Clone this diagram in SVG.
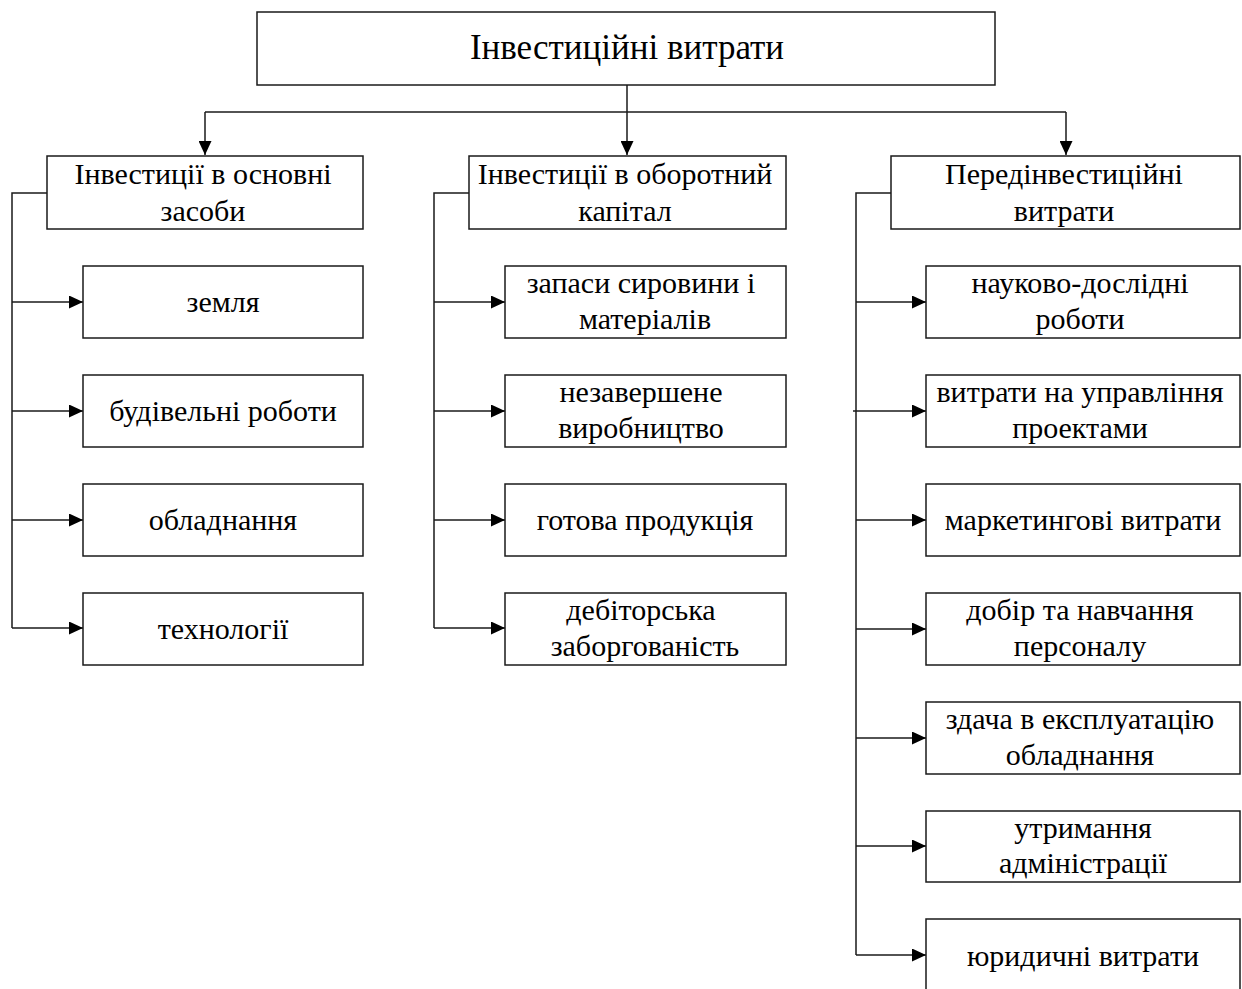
<svg xmlns="http://www.w3.org/2000/svg" width="1242" height="989" viewBox="0 0 1242 989">
  <style>
    .box { fill: #fff; stroke: #1a1a1a; stroke-width: 1.5; }
    .lbl { font-family: "Liberation Serif", "Times New Roman", serif; font-size: 30px; fill: #000; text-anchor: middle; }
    .ttl { font-size: 35px; }
    .wire { fill: none; stroke: #1a1a1a; stroke-width: 1.5; }
  </style>
  <defs>
    <marker id="arrow" viewBox="0 0 14 13" refX="14" refY="6.5" markerWidth="14" markerHeight="13" markerUnits="userSpaceOnUse" orient="auto">
      <path d="M0,0 L14,6.5 L0,13 Z" fill="#000"/>
    </marker>
  </defs>
  <rect width="1242" height="989" fill="#fff"/>

  <!-- connectors -->
  <g id="connectors" class="wire">
    <!-- root to the three branches -->
    <path d="M627,85 V155" marker-end="url(#arrow)"/>
    <path d="M205,112 H1066"/>
    <path d="M205,112 V155" marker-end="url(#arrow)"/>
    <path d="M1066,112 V155" marker-end="url(#arrow)"/>

    <!-- left branch bus -->
    <path d="M47,193 H12 V628"/>
    <path d="M12,302 H83" marker-end="url(#arrow)"/>
    <path d="M12,411 H83" marker-end="url(#arrow)"/>
    <path d="M12,520 H83" marker-end="url(#arrow)"/>
    <path d="M12,628 H83" marker-end="url(#arrow)"/>

    <!-- middle branch bus -->
    <path d="M469,193 H434 V628"/>
    <path d="M434,302 H505" marker-end="url(#arrow)"/>
    <path d="M434,411 H505" marker-end="url(#arrow)"/>
    <path d="M434,520 H505" marker-end="url(#arrow)"/>
    <path d="M434,628 H505" marker-end="url(#arrow)"/>

    <!-- right branch bus -->
    <path d="M891,193 H856 V955"/>
    <path d="M856,302 H926" marker-end="url(#arrow)"/>
    <path d="M853,411 H926" marker-end="url(#arrow)"/>
    <path d="M856,520 H926" marker-end="url(#arrow)"/>
    <path d="M856,629 H926" marker-end="url(#arrow)"/>
    <path d="M856,738 H926" marker-end="url(#arrow)"/>
    <path d="M856,846 H926" marker-end="url(#arrow)"/>
    <path d="M856,955 H926" marker-end="url(#arrow)"/>
  </g>

  <!-- root -->
  <g id="root">
    <rect class="box" x="257" y="12" width="738" height="73"/>
    <text class="lbl ttl" x="627" y="59">Інвестиційні витрати</text>
  </g>

  <!-- second level -->
  <g id="fixed-assets">
    <rect class="box" x="47" y="156" width="316" height="73"/>
    <text class="lbl" x="203" y="184">Інвестиції в основні</text>
    <text class="lbl" x="203" y="221">засоби</text>
  </g>
  <g id="working-capital">
    <rect class="box" x="469" y="156" width="317" height="73"/>
    <text class="lbl" x="625" y="184">Інвестиції в оборотний</text>
    <text class="lbl" x="625" y="221">капітал</text>
  </g>
  <g id="pre-investment">
    <rect class="box" x="891" y="156" width="349" height="73"/>
    <text class="lbl" x="1064" y="184">Передінвестиційні</text>
    <text class="lbl" x="1064" y="221">витрати</text>
  </g>

  <!-- fixed assets items -->
  <g id="land">
    <rect class="box" x="83" y="266" width="280" height="72"/>
    <text class="lbl" x="223" y="312">земля</text>
  </g>
  <g id="construction">
    <rect class="box" x="83" y="375" width="280" height="72"/>
    <text class="lbl" x="223" y="421">будівельні роботи</text>
  </g>
  <g id="equipment">
    <rect class="box" x="83" y="484" width="280" height="72"/>
    <text class="lbl" x="223" y="530">обладнання</text>
  </g>
  <g id="technology">
    <rect class="box" x="83" y="593" width="280" height="72"/>
    <text class="lbl" x="223" y="639">технології</text>
  </g>

  <!-- working capital items -->
  <g id="raw-materials">
    <rect class="box" x="505" y="266" width="281" height="72"/>
    <text class="lbl" x="641" y="293">запаси сировини і</text>
    <text class="lbl" x="645" y="329">матеріалів</text>
  </g>
  <g id="work-in-progress">
    <rect class="box" x="505" y="375" width="281" height="72"/>
    <text class="lbl" x="641" y="402">незавершене</text>
    <text class="lbl" x="641" y="438">виробництво</text>
  </g>
  <g id="finished-goods">
    <rect class="box" x="505" y="484" width="281" height="72"/>
    <text class="lbl" x="645" y="530">готова продукція</text>
  </g>
  <g id="receivables">
    <rect class="box" x="505" y="593" width="281" height="72"/>
    <text class="lbl" x="641" y="620">дебіторська</text>
    <text class="lbl" x="645" y="656">заборгованість</text>
  </g>

  <!-- pre-investment items -->
  <g id="research">
    <rect class="box" x="926" y="266" width="314" height="72"/>
    <text class="lbl" x="1080" y="293">науково-дослідні</text>
    <text class="lbl" x="1080" y="329">роботи</text>
  </g>
  <g id="project-management">
    <rect class="box" x="926" y="375" width="314" height="72"/>
    <text class="lbl" x="1080" y="402">витрати на управління</text>
    <text class="lbl" x="1080" y="438">проектами</text>
  </g>
  <g id="marketing">
    <rect class="box" x="926" y="484" width="314" height="72"/>
    <text class="lbl" x="1083" y="530">маркетингові витрати</text>
  </g>
  <g id="staff">
    <rect class="box" x="926" y="593" width="314" height="72"/>
    <text class="lbl" x="1080" y="620">добір та навчання</text>
    <text class="lbl" x="1080" y="656">персоналу</text>
  </g>
  <g id="commissioning">
    <rect class="box" x="926" y="702" width="314" height="72"/>
    <text class="lbl" x="1080" y="729">здача в експлуатацію</text>
    <text class="lbl" x="1080" y="765">обладнання</text>
  </g>
  <g id="administration">
    <rect class="box" x="926" y="811" width="314" height="71"/>
    <text class="lbl" x="1083" y="838">утримання</text>
    <text class="lbl" x="1083" y="873">адміністрації</text>
  </g>
  <g id="legal">
    <rect class="box" x="926" y="919" width="314" height="80"/>
    <text class="lbl" x="1083" y="966">юридичні витрати</text>
  </g>
</svg>
